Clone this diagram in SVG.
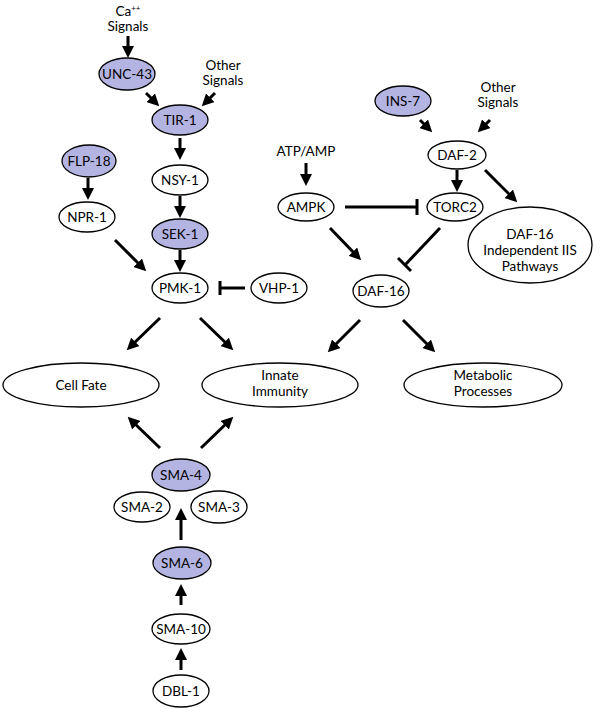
<svg xmlns="http://www.w3.org/2000/svg" width="600" height="709" viewBox="0 0 600 709">
<style>
.n ellipse{fill:#fff;stroke:#000;stroke-width:1.3}
.h ellipse{fill:#b4b4e2}
text{font-family:"Lato","Liberation Sans",sans-serif;font-size:13.5px;text-anchor:middle;fill:#000}
.c line{stroke:#000;stroke-width:3}
.a{marker-end:url(#ah)}
</style>
<defs>
<marker id="ah" markerWidth="4" markerHeight="4" refX="2" refY="2" orient="auto" markerUnits="strokeWidth"><path d="M0,0 L4,2 L0,4 z" fill="#000"/></marker>
</defs>
<g class="c" id="connectors">
<line class="a" x1="128" y1="36" x2="128" y2="52"/>
<line class="a" x1="146" y1="93" x2="155" y2="102"/>
<line class="a" x1="215" y1="93" x2="206" y2="102"/>
<line class="a" x1="180" y1="138" x2="180" y2="154"/>
<line class="a" x1="88" y1="178" x2="88" y2="194"/>
<line class="a" x1="180" y1="196" x2="180" y2="212"/>
<line class="a" x1="180" y1="250" x2="180" y2="266"/>
<line class="a" x1="115" y1="240" x2="142" y2="267"/>
<line x1="245" y1="288" x2="220" y2="288"/>
<line x1="220" y1="281" x2="220" y2="295"/>
<line class="a" x1="420" y1="120" x2="428" y2="128"/>
<line class="a" x1="490" y1="120" x2="482" y2="128"/>
<line class="a" x1="306" y1="163" x2="306" y2="180"/>
<line class="a" x1="457" y1="170" x2="457" y2="186"/>
<line class="a" x1="485" y1="170" x2="513" y2="198"/>
<line x1="345" y1="207" x2="417" y2="207"/>
<line x1="417" y1="199" x2="417" y2="215"/>
<line class="a" x1="330" y1="228" x2="357" y2="256"/>
<line x1="440" y1="228" x2="405" y2="265"/>
<line x1="398" y1="258" x2="411" y2="271"/>
<line class="a" x1="160" y1="318" x2="131" y2="346"/>
<line class="a" x1="200" y1="318" x2="229" y2="346"/>
<line class="a" x1="360" y1="320" x2="332" y2="348"/>
<line class="a" x1="403" y1="320" x2="431" y2="348"/>
<line class="a" x1="160" y1="448" x2="132" y2="421"/>
<line class="a" x1="201" y1="448" x2="229" y2="421"/>
<line class="a" x1="181" y1="540" x2="181" y2="514"/>
<line class="a" x1="181" y1="605" x2="181" y2="590"/>
<line class="a" x1="181" y1="670" x2="181" y2="654"/>
</g>
<g id="ca-signals"><text x="128" y="16">Ca<tspan font-size="8" dy="-5">++</tspan></text><text x="128" y="31">Signals</text></g>
<g id="other-signals-1"><text x="223" y="70">Other</text><text x="223" y="85">Signals</text></g>
<g id="other-signals-2"><text x="498" y="92">Other</text><text x="498" y="107">Signals</text></g>
<g id="atp-amp"><text x="306" y="156">ATP/AMP</text></g>
<g id="unc43" class="n h"><ellipse cx="127" cy="74" rx="28" ry="16"/><text x="127" y="79">UNC-43</text></g>
<g id="tir1" class="n h"><ellipse cx="180" cy="120" rx="28" ry="15"/><text x="180" y="125">TIR-1</text></g>
<g id="flp18" class="n h"><ellipse cx="89" cy="161" rx="27" ry="16"/><text x="89" y="166">FLP-18</text></g>
<g id="nsy1" class="n"><ellipse cx="180" cy="180" rx="28" ry="15"/><text x="180" y="185">NSY-1</text></g>
<g id="npr1" class="n"><ellipse cx="87" cy="217" rx="28" ry="15"/><text x="87" y="222">NPR-1</text></g>
<g id="sek1" class="n h"><ellipse cx="180" cy="234" rx="28" ry="15"/><text x="180" y="239">SEK-1</text></g>
<g id="pmk1" class="n"><ellipse cx="180" cy="288" rx="28" ry="15"/><text x="180" y="293">PMK-1</text></g>
<g id="vhp1" class="n"><ellipse cx="279" cy="288" rx="28" ry="15"/><text x="279" y="293">VHP-1</text></g>
<g id="ins7" class="n h"><ellipse cx="403" cy="101" rx="28" ry="15"/><text x="403" y="106">INS-7</text></g>
<g id="daf2" class="n"><ellipse cx="457" cy="155" rx="29" ry="14"/><text x="457" y="160">DAF-2</text></g>
<g id="ampk" class="n"><ellipse cx="306" cy="207" rx="28" ry="14"/><text x="306" y="212">AMPK</text></g>
<g id="torc2" class="n"><ellipse cx="455" cy="207" rx="28" ry="14"/><text x="455" y="212">TORC2</text></g>
<g id="daf16-indep" class="n"><ellipse cx="530" cy="245" rx="62" ry="38"/><text x="530" y="239">DAF-16</text><text x="530" y="255">Independent IIS</text><text x="530" y="271">Pathways</text></g>
<g id="daf16" class="n"><ellipse cx="381" cy="291" rx="28" ry="16"/><text x="381" y="296">DAF-16</text></g>
<g id="cell-fate" class="n"><ellipse cx="81" cy="385" rx="78" ry="22"/><text x="81" y="390">Cell Fate</text></g>
<g id="innate" class="n"><ellipse cx="280" cy="385" rx="78" ry="22"/><text x="280" y="380">Innate</text><text x="280" y="396">Immunity</text></g>
<g id="metabolic" class="n"><ellipse cx="483" cy="385" rx="79" ry="22"/><text x="483" y="380">Metabolic</text><text x="483" y="396">Processes</text></g>
<g id="sma4" class="n h"><ellipse cx="181" cy="475" rx="29" ry="16"/><text x="181" y="480">SMA-4</text></g>
<g id="sma2" class="n"><ellipse cx="142" cy="507" rx="28" ry="15"/><text x="142" y="512">SMA-2</text></g>
<g id="sma3" class="n"><ellipse cx="219" cy="507" rx="28" ry="16"/><text x="219" y="512">SMA-3</text></g>
<g id="sma6" class="n h"><ellipse cx="182" cy="563" rx="29" ry="16"/><text x="182" y="568">SMA-6</text></g>
<g id="sma10" class="n"><ellipse cx="181" cy="629" rx="29" ry="15"/><text x="181" y="634">SMA-10</text></g>
<g id="dbl1" class="n"><ellipse cx="181" cy="691" rx="28" ry="16"/><text x="181" y="696">DBL-1</text></g>
</svg>
